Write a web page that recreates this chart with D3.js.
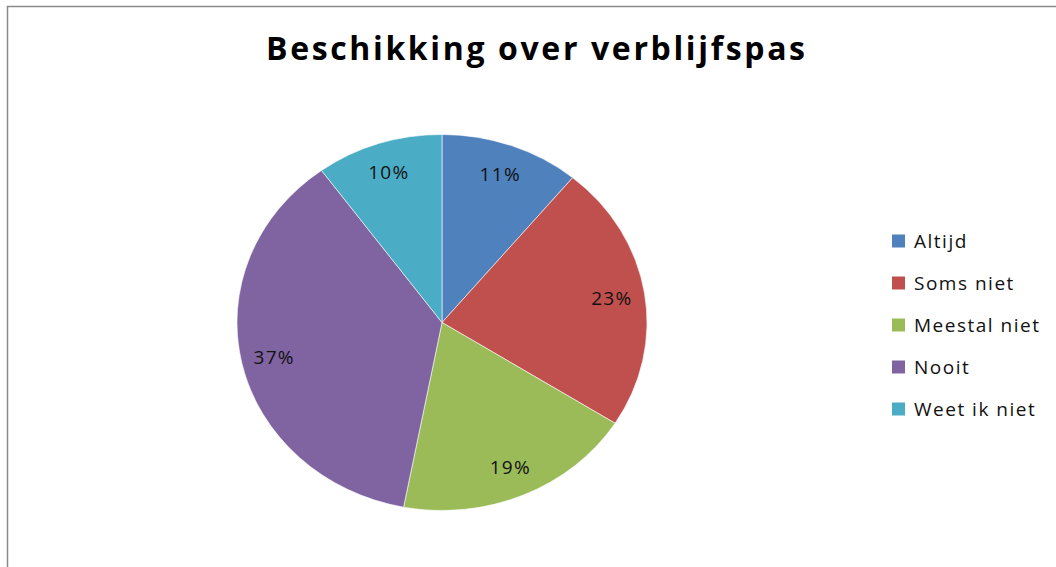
<!DOCTYPE html>
<html lang="nl">
<head>
<meta charset="utf-8">
<title>Beschikking over verblijfspas</title>
<script src="https://d3js.org/d3.v7.min.js"></script>
<style>
  body { margin: 0; background: #fff; }
  svg text { font-family: "Open Sans", "DejaVu Sans", sans-serif; }
</style>
</head>
<body>
<script>
// data
var categories = ["Altijd", "Soms niet", "Meestal niet", "Nooit", "Weet ik niet"];
var values = [11, 23, 19, 37, 10];
var colors = ["#4F81BD", "#C0504D", "#9BBB59", "#8064A2", "#4BACC6"];

var width = 1056, height = 567;
var cx = 442, cy = 322.5;
var rx = 205, ry = 188;      // excel squashed the pie a bit
var ky = ry / rx;

var svg = d3.select("body").append("svg")
    .attr("width", width)
    .attr("height", height);

// chart frame (runs off the right and bottom of the picture)
svg.append("rect")
    .attr("x", 7.5).attr("y", 6.5)
    .attr("width", 1200).attr("height", 700)
    .attr("fill", "none")
    .attr("stroke", "#8a8a8a")
    .attr("stroke-width", 1.5);

svg.append("text")
    .attr("x", 535.5)
    .attr("y", 60)
    .attr("text-anchor", "middle")
    .attr("font-size", 32)
    .attr("font-weight", "bold")
    .attr("textLength", 539)
    .attr("lengthAdjust", "spacing")
    .text("Beschikking over verblijfspas");

var total = d3.sum(values);
var pie = d3.pie().sort(null).value(function(d) { return d; });
var arcs = pie(values);

var arc = d3.arc().innerRadius(0).outerRadius(rx);
var labelArc = d3.arc().innerRadius(172).outerRadius(172);

var g = svg.append("g")
    .attr("transform", "translate(" + cx + "," + cy + ") scale(1," + ky + ")");

g.selectAll("path")
    .data(arcs)
    .enter().append("path")
    .attr("d", arc)
    .attr("fill", function(d, i) { return colors[i]; })
    .attr("stroke", "#fff")
    .attr("stroke-width", 0.6);

svg.selectAll("text.lbl")
    .data(arcs)
    .enter().append("text")
    .attr("class", "lbl")
    .attr("x", function(d) { return cx + labelArc.centroid(d)[0]; })
    .attr("y", function(d) { return cy + labelArc.centroid(d)[1] * ky; })
    .attr("dy", "0.36em")
    .attr("text-anchor", "middle")
    .attr("font-size", 19)
    .attr("letter-spacing", 1.3)
    .attr("fill", "#111")
    .text(function(d) { return Math.round(d.value / total * 100) + "%"; });

// legend
var legend = svg.selectAll("g.leg")
    .data(categories)
    .enter().append("g")
    .attr("class", "leg")
    .attr("transform", function(d, i) { return "translate(892," + (241 + i * 42) + ")"; });

legend.append("rect")
    .attr("x", 0).attr("y", -6.5)
    .attr("width", 13).attr("height", 13)
    .attr("fill", function(d, i) { return colors[i]; });

legend.append("text")
    .attr("x", 22)
    .attr("dy", "0.36em")
    .attr("font-size", 19)
    .attr("letter-spacing", 1.5)
    .attr("fill", "#111")
    .text(function(d) { return d; });
</script>
</body>
</html>
